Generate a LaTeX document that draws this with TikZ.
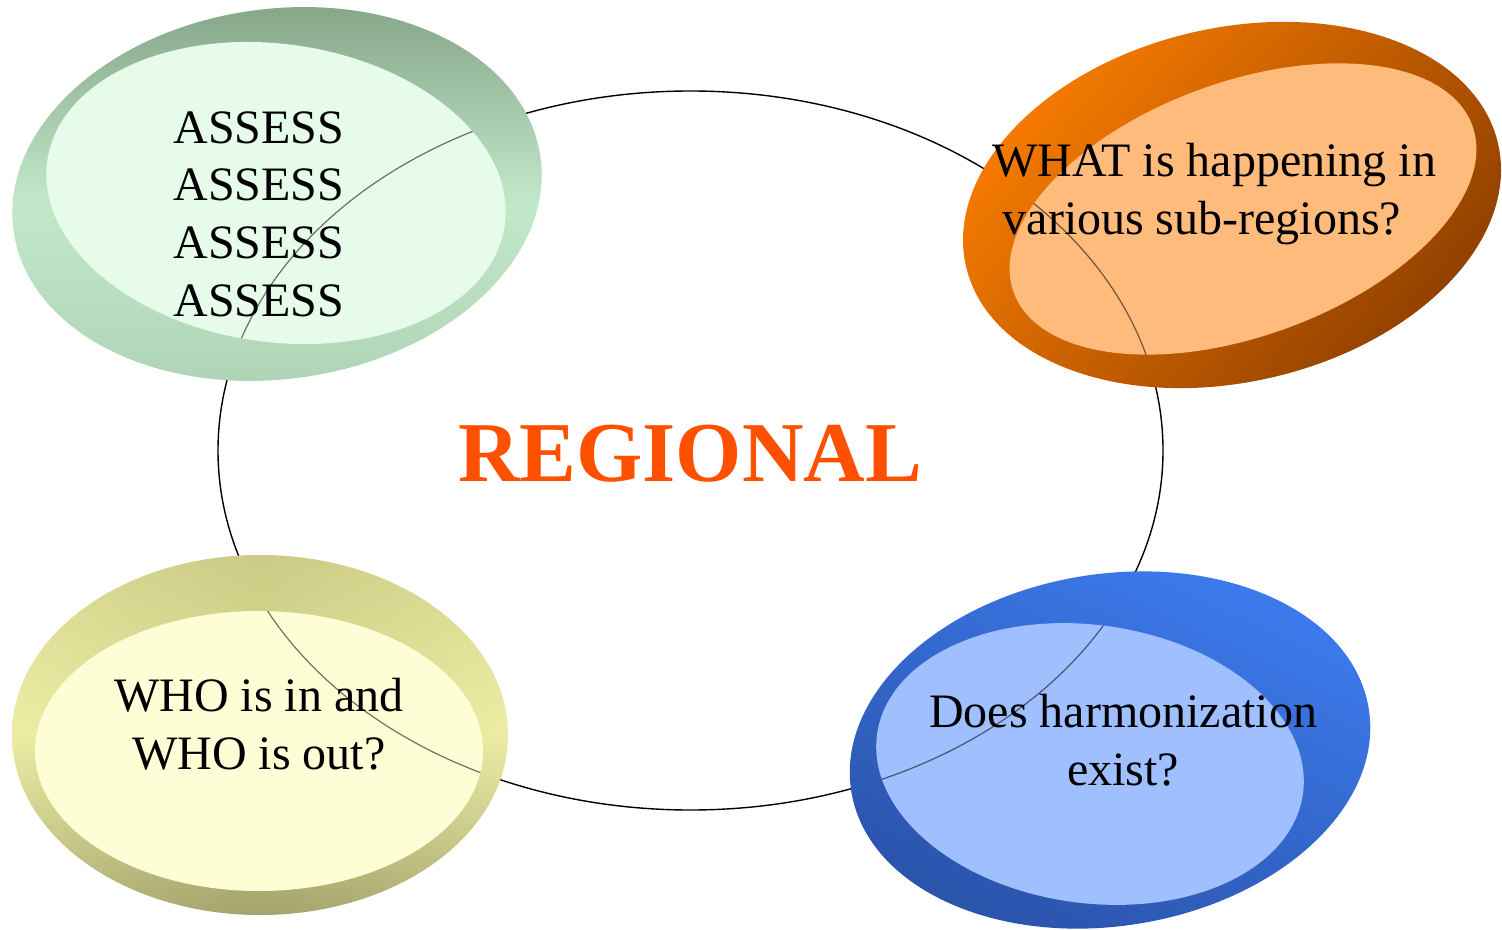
\documentclass[tikz,border=0pt]{standalone}
\usepackage{fontspec}
\setmainfont{Liberation Serif}
\definecolor{grnTop}{RGB}{136,168,138}
\definecolor{grnMid}{RGB}{194,232,202}
\definecolor{grnBot}{RGB}{174,210,180}
\definecolor{grnFace}{RGB}{230,251,233}
\definecolor{orgA}{RGB}{248,124,0}
\definecolor{orgB}{RGB}{138,60,0}
\definecolor{orgFace}{RGB}{255,187,124}
\definecolor{bluA}{RGB}{60,122,236}
\definecolor{bluB}{RGB}{42,82,168}
\definecolor{bluFace}{RGB}{160,191,255}
\definecolor{yelTop}{RGB}{216,216,142}
\definecolor{yelMid}{RGB}{236,236,160}
\definecolor{yelBot}{RGB}{174,174,114}
\definecolor{yelFace}{RGB}{254,254,214}
\definecolor{regRed}{RGB}{255,80,0}
\tikzset{
  bigring/.style={draw=black, line width=0.7pt},
  faint/.style={draw=black, draw opacity=0.55, line width=0.6pt},
  sidedark/.style={left color=white, right color=white, middle color=black, opacity=0.06},
  txt/.style={font=\fontsize{24}{28.8}\selectfont, align=center, inner sep=0pt, text=black},
  title/.style={font=\fontsize{42.6}{50}\selectfont\bfseries, text=regRed, inner sep=0pt}
}
\begin{document}
\begin{tikzpicture}[x=0.5pt,y=-0.5pt]
\useasboundingbox (0,0) rectangle (1502,930);
\fill[white] (0,0) rectangle (1502,930);

% central ring
\draw[bigring] (690.5,450.5) ellipse [x radius=472.5, y radius=359.5];

% green disc (top left)
\shade[shift={(277,194)}, rotate=8, top color=grnTop, bottom color=grnBot, middle color=grnMid]
  (0,0) ellipse [x radius=266, y radius=185];
\fill[grnFace, shift={(276,193)}, rotate=-8] (0,0) ellipse [x radius=231, y radius=149];
\begin{scope}
  \clip[shift={(276,193)}, rotate=-8] (0,0) ellipse [x radius=231, y radius=149];
  \draw[faint] (690.5,450.5) ellipse [x radius=472.5, y radius=359.5];
\end{scope}

% orange disc (top right)
\shade[shift={(1232,205)}, rotate=13, top color=orgA, bottom color=orgB, shading angle=50]
  (0,0) ellipse [x radius=273, y radius=177];
\fill[orgFace, shift={(1243,209)}, rotate=20] (0,0) ellipse [x radius=244, y radius=127];
\begin{scope}
  \clip[shift={(1243,209)}, rotate=20] (0,0) ellipse [x radius=244, y radius=127];
  \draw[faint] (690.5,450.5) ellipse [x radius=472.5, y radius=359.5];
\end{scope}

% yellow disc (bottom left)
\shade[shift={(260,735)}, top color=yelTop, bottom color=yelBot, middle color=yelMid]
  (0,0) ellipse [x radius=248, y radius=180];
\shade[sidedark, shift={(260,735)}] (0,0) ellipse [x radius=248, y radius=180];
\fill[yelFace, shift={(259,751)}] (0,0) ellipse [x radius=224, y radius=140];
\begin{scope}
  \clip[shift={(259,751)}] (0,0) ellipse [x radius=224, y radius=140];
  \draw[faint] (690.5,450.5) ellipse [x radius=472.5, y radius=359.5];
\end{scope}

% blue disc (bottom right)
\shade[shift={(1110,750)}, rotate=9, top color=bluA, bottom color=bluB, shading angle=-25]
  (0,0) ellipse [x radius=262, y radius=176];
\fill[bluFace, shift={(1090,764)}, rotate=-8] (0,0) ellipse [x radius=215, y radius=139];
\begin{scope}
  \clip[shift={(1090,764)}, rotate=-8] (0,0) ellipse [x radius=215, y radius=139];
  \draw[faint] (690.5,450.5) ellipse [x radius=472.5, y radius=359.5];
\end{scope}

% texts
\node[title, anchor=base] (reg) at (690,481) {REGIONAL};
\node[txt] (assess) at (259,214) {ASSESS\\ASSESS\\ASSESS\\ASSESS};
\node[txt] (what) at (1214,194) {WHAT is happening in\\various sub-regions?\hspace*{12pt}};
\node[txt] (who) at (259,724) {WHO is in and\\WHO is out?};
\node[txt] (does) at (1123,740) {Does harmonization\\exist?};
\end{tikzpicture}
\end{document}
